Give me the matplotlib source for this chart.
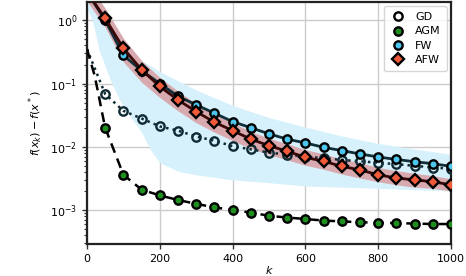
import matplotlib
matplotlib.use("Agg")
import matplotlib.pyplot as plt
from matplotlib.lines import Line2D

# ---------------- data ----------------
k_marks = [50, 100, 150, 200, 250, 300, 350, 400, 450, 500,
           550, 600, 650, 700, 750, 800, 850, 900, 950, 1000]

gd_k = [0] + k_marks
gd = [0.35, 0.068, 0.037, 0.028, 0.021, 0.018, 0.0145, 0.0125, 0.0102, 0.0091, 0.0081,
      0.0075, 0.0070, 0.0066, 0.0062, 0.0059, 0.0056, 0.0053, 0.0050, 0.0047, 0.0045]

agm_k = [0, 10, 20, 30, 40] + k_marks
agm = [0.35, 0.22, 0.14, 0.075, 0.038,
       0.020, 0.0036, 0.0021, 0.0017, 0.00144, 0.00125, 0.0011, 0.00100, 0.00091, 0.00081,
       0.00076, 0.00072, 0.00068, 0.00066, 0.00064, 0.00063, 0.00062, 0.00061, 0.00060, 0.00060]

fw_k = [0] + k_marks
fw = [2.8, 1.0, 0.28, 0.16, 0.10, 0.063, 0.046, 0.034, 0.025, 0.020, 0.016,
      0.0132, 0.0115, 0.0098, 0.0087, 0.0077, 0.0069, 0.0063, 0.0058, 0.0054, 0.0049]

afw_k = [0] + k_marks
afw = [2.8, 1.07, 0.36, 0.165, 0.090, 0.055, 0.036, 0.0245, 0.018, 0.0132, 0.0104,
       0.0085, 0.0068, 0.0059, 0.0049, 0.0043, 0.0036, 0.0032, 0.0030, 0.0028, 0.0025]

fw_band_k = [0, 15, 33, 65, 100, 150, 175, 200, 250, 300, 400, 500, 600, 700, 800, 900, 1000]
fw_band_hi = [2.4, 1.6, 1.1, 0.62, 0.38, 0.23, 0.19, 0.155, 0.11, 0.079, 0.045, 0.029,
              0.0205, 0.0148, 0.0113, 0.0092, 0.0076]
fw_band_lo = [1.5, 1.0, 0.34, 0.11, 0.042, 0.017, 0.0088, 0.0056, 0.0041, 0.0036, 0.0030,
              0.0027, 0.0024, 0.0023, 0.0022, 0.0021, 0.0020]

afw_band_k = [0] + k_marks
afw_band_hi = [4.0, 1.55, 0.52, 0.23, 0.125, 0.076, 0.048, 0.033, 0.024, 0.0175, 0.0136,
               0.0112, 0.0090, 0.0077, 0.0064, 0.0056, 0.0047, 0.0042, 0.0038, 0.0035, 0.0031]
afw_band_lo = [2.0, 0.78, 0.22, 0.105, 0.060, 0.037, 0.024, 0.017, 0.0125, 0.0094, 0.0075,
               0.0062, 0.0051, 0.0044, 0.0037, 0.0032, 0.0028, 0.0025, 0.0023, 0.0022, 0.0020]

labels = ["GD", "AGM", "FW", "AFW"]

# ---------------- style ----------------
c_gd_edge = "#0f2a33"
c_agm = "#1f8f1f"
c_fw = "#4cc6ee"
c_fw_line = "#102f38"
c_afw = "#f05a3a"
c_afw_line = "#3a0808"
c_blue_band = "#d6f1fb"
c_pink_band = "#d8a9ae"

def mark_idx(ks):
    return [i for i, k in enumerate(ks) if k in k_marks]

fig = plt.figure(figsize=(4.66, 2.76), dpi=100)
ax = fig.add_axes([0.1867, 0.116, 0.7811, 0.8768])

ax.fill_between(fw_band_k, fw_band_lo, fw_band_hi, color=c_blue_band, lw=0, zorder=1)
ax.fill_between(afw_band_k, afw_band_lo, afw_band_hi, color=c_pink_band, lw=0, zorder=1.5)

ms = 6
mew = 1.7
ax.plot(gd_k, gd, ls=":", color=c_gd_edge, lw=1.8, marker="o", ms=ms, mew=mew,
        fillstyle="none", mec=c_gd_edge, markevery=mark_idx(gd_k), zorder=3)
ax.plot(agm_k, agm, ls=(0, (4, 2.5)), color="black", lw=1.8, marker="o", ms=ms, mew=mew,
        mfc=c_agm, mec="black", markevery=mark_idx(agm_k), zorder=3)
ax.plot(fw_k, fw, ls="-", color=c_fw_line, lw=2.0, marker="o", ms=ms, mew=mew,
        mfc=c_fw, mec="black", markevery=mark_idx(fw_k), zorder=4)
ax.plot(afw_k, afw, ls="-", color=c_afw_line, lw=2.0, marker="D", ms=ms, mew=mew,
        mfc=c_afw, mec="black", markevery=mark_idx(afw_k), zorder=5)

ax.set_yscale("log")
ax.set_xlim(0, 1000)
ax.set_ylim(2.9e-4, 1.95)
ax.set_xticks([0, 200, 400, 600, 800, 1000])
ax.grid(True, which="major", color="#cccccc", lw=1.0, zorder=0)
ax.set_axisbelow(True)
ax.tick_params(labelsize=8, width=1.0, length=3.5, color="#333333")
ax.tick_params(which="minor", length=2, width=0.8, color="#333333")
for s in ax.spines.values():
    s.set_linewidth(1.6)
    s.set_color("#222222")

ax.set_xlabel("$k$", fontsize=8, labelpad=0.5)
ax.set_ylabel("$f(x_k) - f(x^*)$", fontsize=8, labelpad=4)

handles = [
    Line2D([], [], ls="none", marker="o", ms=ms, mew=mew, mfc="white", mec="black"),
    Line2D([], [], ls="none", marker="o", ms=ms, mew=mew, mfc=c_agm, mec="black"),
    Line2D([], [], ls="none", marker="o", ms=ms, mew=mew, mfc=c_fw, mec="black"),
    Line2D([], [], ls="none", marker="D", ms=ms, mew=mew, mfc=c_afw, mec="black"),
]
leg = ax.legend(handles, labels, loc="upper right", fontsize=8, frameon=True,
                handlelength=1.5, handletextpad=0.8, labelspacing=0.4,
                borderaxespad=0.4, borderpad=0.5)
leg.get_frame().set_edgecolor("#cccccc")

fig.savefig("out.png", dpi=100)
